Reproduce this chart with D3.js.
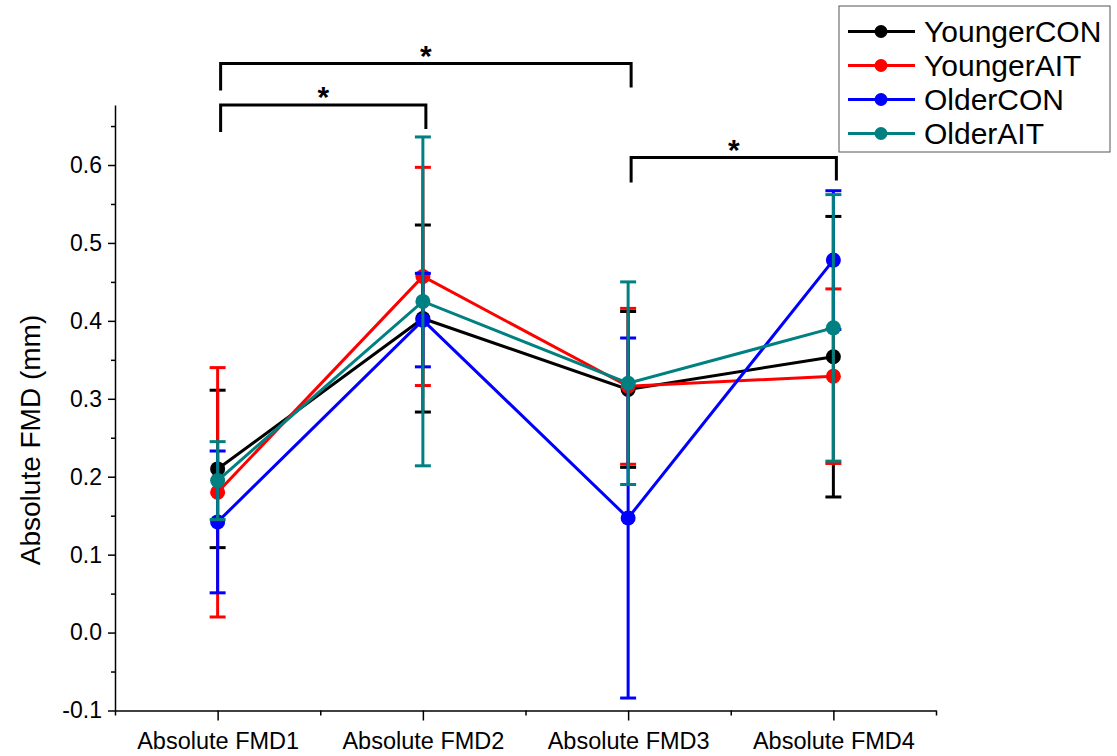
<!DOCTYPE html>
<html>
<head>
<meta charset="utf-8">
<script src="https://cdn.jsdelivr.net/npm/d3@7"></script>
<style>
  html, body { margin: 0; padding: 0; background: #fff; }
  svg { display: block; font-family: "Liberation Sans", Arial, sans-serif; }
</style>
</head>
<body>
<svg id="chart" width="1117" height="756"></svg>
<script>
const categories = ["Absolute FMD1", "Absolute FMD2", "Absolute FMD3", "Absolute FMD4"];
const seriesNames = ["YoungerCON", "YoungerAIT", "OlderCON", "OlderAIT"];
const seriesColors = ["#000000", "#ff0000", "#0000ff", "#008080"];
const youngerCON = [0.210, 0.403, 0.312, 0.354];
const youngerCONErr = [0.101, 0.120, 0.100, 0.180];
const youngerAIT = [0.180, 0.457, 0.316, 0.329];
const youngerAITErr = [0.160, 0.140, 0.100, 0.112];
const olderCON = [0.142, 0.401, 0.147, 0.478];
const olderCONErr = [0.091, 0.060, 0.231, 0.089];
const olderAIT = [0.195, 0.425, 0.320, 0.391];
const olderAITErr = [0.050, 0.211, 0.130, 0.171];
const yTicks = [-0.1, 0.0, 0.1, 0.2, 0.3, 0.4, 0.5, 0.6];
const yTickLabels = ["-0.1", "0.0", "0.1", "0.2", "0.3", "0.4", "0.5", "0.6"];
const yMinorTicks = [-0.05, 0.05, 0.15, 0.25, 0.35, 0.45, 0.55, 0.65];
// significance brackets: [from category index, to category index]
const brackets = [[0, 2], [0, 1], [2, 3]];
const bracketLabels = ["*", "*", "*"];

const series = [
  {name: seriesNames[0], color: seriesColors[0], v: youngerCON, e: youngerCONErr},
  {name: seriesNames[1], color: seriesColors[1], v: youngerAIT, e: youngerAITErr},
  {name: seriesNames[2], color: seriesColors[2], v: olderCON, e: olderCONErr},
  {name: seriesNames[3], color: seriesColors[3], v: olderAIT, e: olderAITErr}
];

const svg = d3.select("#chart");
const x = d3.scaleLinear().domain([0.5, 4.5]).range([115, 936]);
const y = d3.scaleLinear().domain([-0.1, 0.677]).range([710.5, 105]);

// Y axis
const yAxisMinor = d3.axisLeft(y).tickValues(yMinorTicks).tickSize(4).tickFormat("").tickSizeOuter(0);
svg.append("g").attr("transform", "translate(115,0)").call(yAxisMinor)
  .call(g => g.select(".domain").remove())
  .call(g => g.selectAll("line").attr("stroke-width", 1.5));
const yAxis = d3.axisLeft(y).tickValues(yTicks).tickSize(7).tickSizeOuter(0).tickPadding(6)
  .tickFormat((d, i) => yTickLabels[i]);
svg.append("g").attr("transform", "translate(115,0)").call(yAxis)
  .call(g => g.select(".domain").attr("stroke-width", 1.5))
  .call(g => g.selectAll("line").attr("stroke-width", 1.5))
  .call(g => g.selectAll("text").attr("font-size", 23).attr("fill", "#000")
    .attr("font-family", "Liberation Sans, Arial, sans-serif"));

// X axis
const xMinor = d3.axisBottom(x).tickValues([0.5, 1.5, 2.5, 3.5, 4.5]).tickSize(5).tickFormat("").tickSizeOuter(0);
svg.append("g").attr("transform", "translate(0,710.5)").call(xMinor)
  .call(g => g.select(".domain").remove())
  .call(g => g.selectAll("line").attr("stroke-width", 1.5));
const xAxis = d3.axisBottom(x).tickValues([1, 2, 3, 4]).tickSize(10).tickSizeOuter(0).tickPadding(12)
  .tickFormat((d, i) => categories[i]);
svg.append("g").attr("transform", "translate(0,710.5)").call(xAxis)
  .call(g => g.select(".domain").attr("stroke-width", 1.5))
  .call(g => g.selectAll("line").attr("stroke-width", 1.5))
  .call(g => g.selectAll("text").attr("font-size", 23.5).attr("fill", "#000")
    .attr("font-family", "Liberation Sans, Arial, sans-serif"));

// Y title
svg.append("text")
  .attr("transform", "translate(40,440) rotate(-90)")
  .attr("text-anchor", "middle")
  .attr("font-size", 28)
  .text("Absolute FMD (mm)");

// Series
const line = d3.line().x((d, i) => x(i + 1)).y(d => y(d));
const capW = 8;
series.forEach(s => {
  const g = svg.append("g");
  g.append("path").datum(s.v).attr("d", line).attr("fill", "none")
    .attr("stroke", s.color).attr("stroke-width", 3);
  s.v.forEach((v, i) => {
    const cx = x(i + 1);
    const top = y(v + s.e[i]), bot = y(v - s.e[i]);
    g.append("line").attr("x1", cx).attr("x2", cx).attr("y1", top).attr("y2", bot)
      .attr("stroke", s.color).attr("stroke-width", 3);
    [top, bot].forEach(yy => g.append("line").attr("x1", cx - capW).attr("x2", cx + capW)
      .attr("y1", yy).attr("y2", yy).attr("stroke", s.color).attr("stroke-width", 3));
  });
  g.selectAll("circle").data(s.v).join("circle")
    .attr("cx", (d, i) => x(i + 1)).attr("cy", d => y(d)).attr("r", 7.5)
    .attr("fill", s.color);
});

// Significance brackets
const bracketTops = [63.5, 105, 157.5];
const bracketDrops = [[27, 24], [27, 24], [25, 23]];
brackets.forEach((b, k) => {
  const x1 = x(b[0] + 1) + 3, x2 = x(b[1] + 1) + 3;
  const t = bracketTops[k];
  svg.append("path")
    .attr("d", `M${x1},${t + bracketDrops[k][0]}V${t}H${x2}V${t + bracketDrops[k][1]}`)
    .attr("fill", "none").attr("stroke", "#000").attr("stroke-width", 3);
  svg.append("text").attr("x", (x1 + x2) / 2).attr("y", t + 2)
    .attr("text-anchor", "middle").attr("font-size", 30).attr("font-weight", "bold")
    .text(bracketLabels[k]);
});

// Legend
const lg = svg.append("g");
lg.append("rect").attr("x", 839).attr("y", 6).attr("width", 271).attr("height", 146)
  .attr("fill", "#fff").attr("stroke", "#555").attr("stroke-width", 1);
series.forEach((s, i) => {
  const yy = 31.5 + i * 34;
  lg.append("line").attr("x1", 848).attr("x2", 915).attr("y1", yy).attr("y2", yy)
    .attr("stroke", s.color).attr("stroke-width", 3);
  lg.append("circle").attr("cx", 881).attr("cy", yy).attr("r", 6.5).attr("fill", s.color);
  lg.append("text").attr("x", 924).attr("y", yy + 10.5).attr("font-size", 30).text(s.name);
});
</script>
</body>
</html>
